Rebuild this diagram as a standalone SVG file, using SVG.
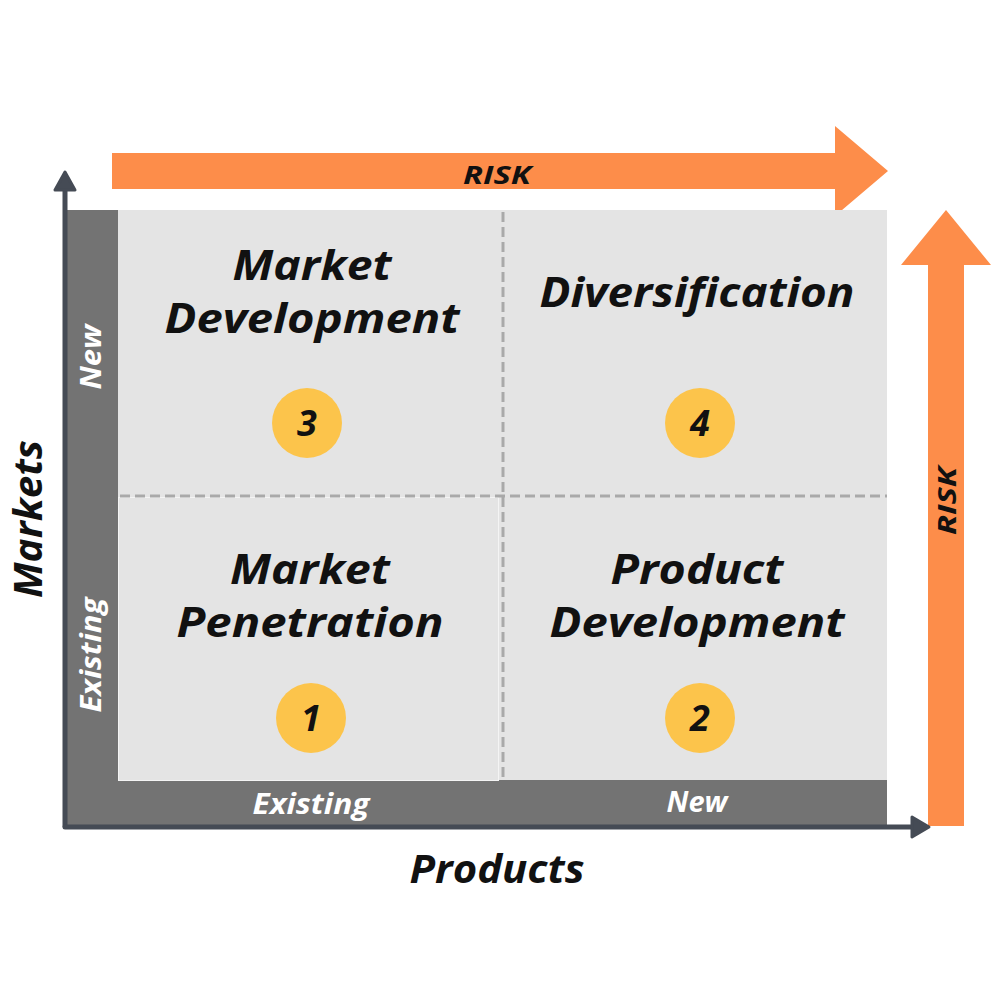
<svg xmlns="http://www.w3.org/2000/svg" width="1000" height="1000" viewBox="0 0 1000 1000">
<style>
.t{font-family:"Open Sans","Liberation Sans",sans-serif;font-weight:700;font-style:italic;fill:#111;text-anchor:middle}
.title{font-size:42px}
.axis{font-size:40px}
.lbl{font-size:28px;fill:#fff}
.risk{font-size:25px}
.num{font-size:36px}
.band{fill:#737373}
.quad{fill:#e4e4e4}
.dash{stroke:#a9a9a9;stroke-width:3;stroke-dasharray:10 5;fill:none}
.ax{stroke:#454b55;stroke-width:5;fill:none;stroke-linecap:round}
.head{fill:#454b55}
.orange{fill:#fd8d4a}
.circ{fill:#fcc44b}
</style>
<rect width="1000" height="1000" fill="#fff"/>
<g id="risk-top">
<polygon class="orange" points="112,153 835,153 835,126 888,171 835,216 835,189 112,189"/>
<text class="t risk" x="497" y="184" textLength="68" lengthAdjust="spacingAndGlyphs">RISK</text>
</g>
<g id="risk-right">
<polygon class="orange" points="928,826 928,265 901,265 946,210 991,265 964,265 964,826"/>
<text class="t risk" transform="translate(956,501) rotate(-90)" textLength="68" lengthAdjust="spacingAndGlyphs">RISK</text>
</g>
<g id="bands">
<rect class="band" x="67" y="210" width="51" height="617"/>
<rect class="band" x="67" y="780" width="820" height="47"/>
</g>
<g id="quadrants">
<rect class="quad" x="118" y="210" width="769" height="570"/>
<rect x="118.5" y="497.5" width="380" height="283" fill="#e4e4e4" stroke="#f4f4f4" stroke-width="1"/>
</g>
<g id="connectors">
<line class="dash" x1="503" y1="212" x2="503" y2="780"/>
<line class="dash" x1="120" y1="496" x2="887" y2="496"/>
<path class="ax" d="M65,826 V185"/>
<path class="head" d="M55,190 L65,172 L75,190 Z" stroke="#454b55" stroke-width="3" stroke-linejoin="round"/>
<path class="ax" d="M65,827 H915"/>
<path class="head" d="M912,817 L929,827 L912,837 Z" stroke="#454b55" stroke-width="3" stroke-linejoin="round"/>
</g>
<g id="q3">
<text class="t title" x="312" y="280" textLength="159" lengthAdjust="spacingAndGlyphs">Market</text>
<text class="t title" x="312" y="333" textLength="295" lengthAdjust="spacingAndGlyphs">Development</text>
<circle class="circ" cx="307" cy="423" r="35"/>
<text class="t num" x="307" y="436">3</text>
</g>
<g id="q4">
<text class="t title" x="697" y="307" textLength="315" lengthAdjust="spacingAndGlyphs">Diversification</text>
<circle class="circ" cx="700" cy="423" r="35"/>
<text class="t num" x="700" y="436">4</text>
</g>
<g id="q1">
<text class="t title" x="310" y="584" textLength="160" lengthAdjust="spacingAndGlyphs">Market</text>
<text class="t title" x="310" y="637" textLength="267" lengthAdjust="spacingAndGlyphs">Penetration</text>
<circle class="circ" cx="311" cy="718" r="35"/>
<text class="t num" x="311" y="731">1</text>
</g>
<g id="q2">
<text class="t title" x="697" y="584" textLength="173" lengthAdjust="spacingAndGlyphs">Product</text>
<text class="t title" x="697" y="637" textLength="295" lengthAdjust="spacingAndGlyphs">Development</text>
<circle class="circ" cx="700" cy="718" r="35"/>
<text class="t num" x="700" y="731">2</text>
</g>
<g id="labels">
<text class="t lbl" x="311" y="814" textLength="117" lengthAdjust="spacingAndGlyphs">Existing</text>
<text class="t lbl" x="697" y="812" textLength="61" lengthAdjust="spacingAndGlyphs">New</text>
<text class="t lbl" transform="translate(101,357) rotate(-90)" textLength="65" lengthAdjust="spacingAndGlyphs">New</text>
<text class="t lbl" transform="translate(101,655) rotate(-90)" textLength="115" lengthAdjust="spacingAndGlyphs">Existing</text>
<text class="t axis" x="497" y="883" textLength="175" lengthAdjust="spacingAndGlyphs">Products</text>
<text class="t axis" transform="translate(42,519) rotate(-90)" textLength="158" lengthAdjust="spacingAndGlyphs">Markets</text>
</g>
</svg>
